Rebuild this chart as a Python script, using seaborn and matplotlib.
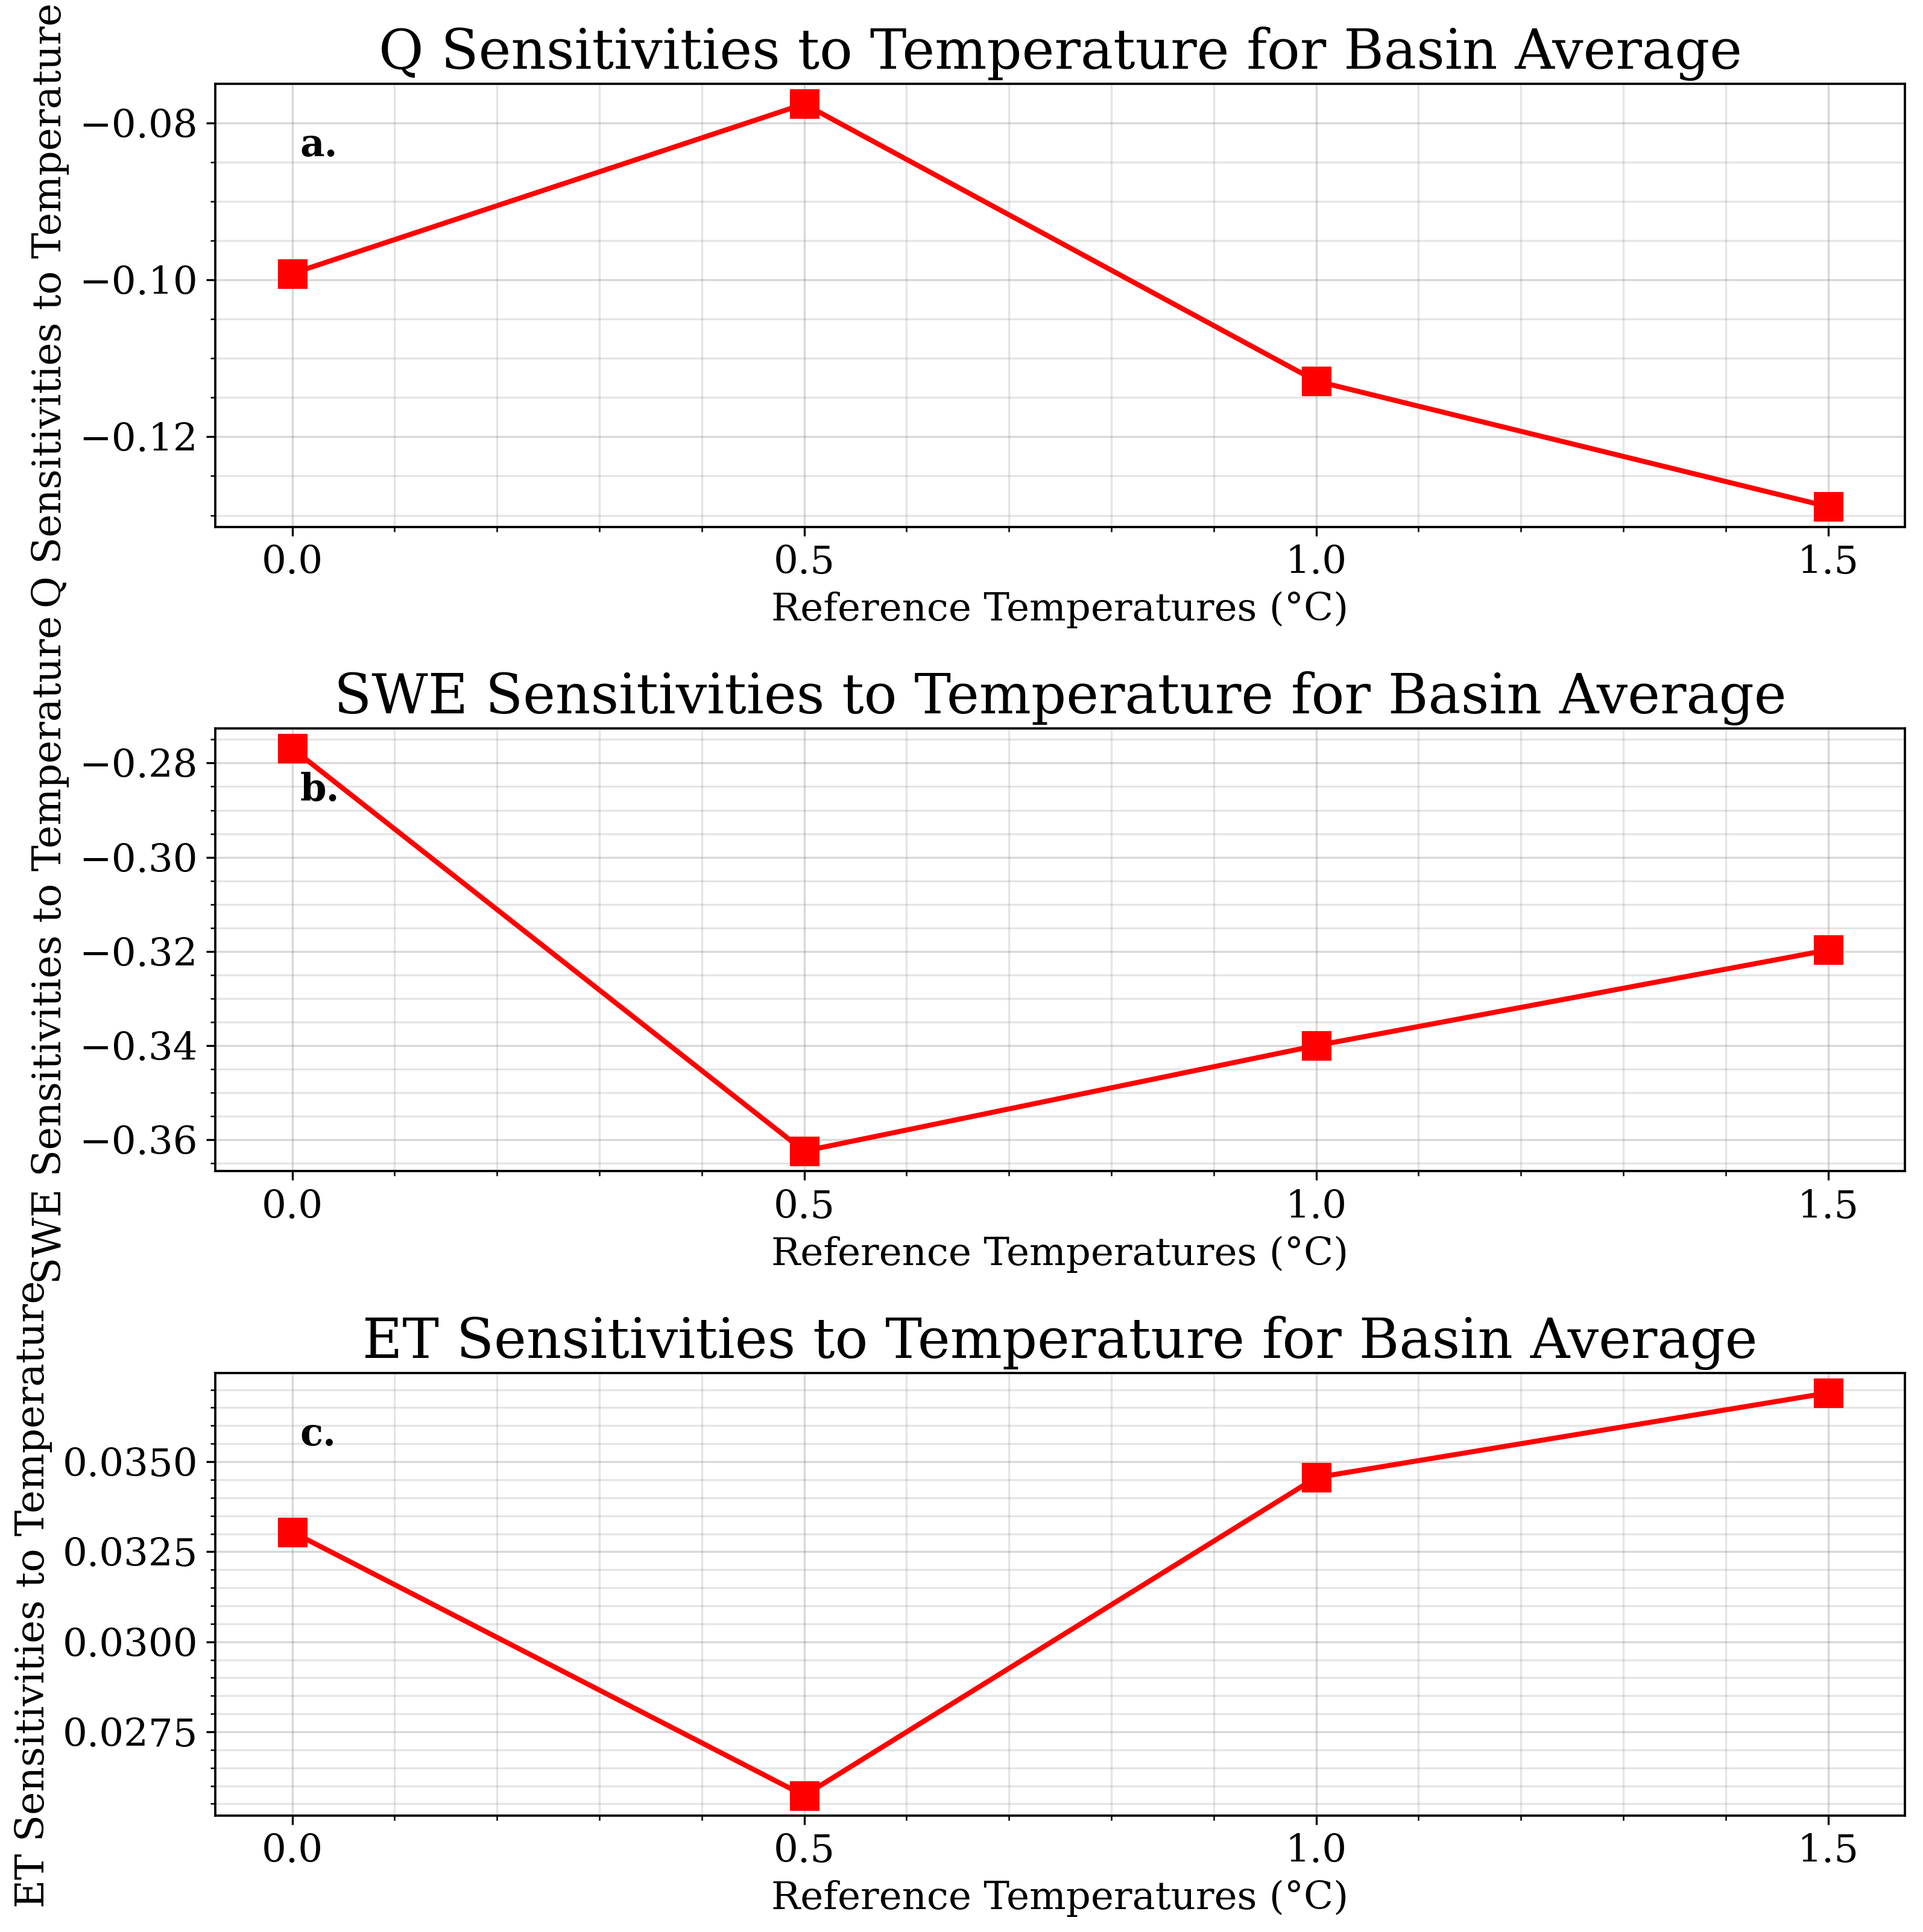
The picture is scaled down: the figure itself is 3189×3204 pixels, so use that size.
import numpy as np
import pandas as pd
import seaborn as sns
import matplotlib
matplotlib.use("Agg")
import matplotlib.pyplot as plt

ref_temps = [0.0, 0.5, 1.0, 1.5]
q_sens = [-0.0992, -0.0776, -0.1129, -0.1289]
swe_sens = [-0.2769, -0.3624, -0.3400, -0.3197]
et_sens = [0.03305, 0.02573, 0.03456, 0.03691]

variables = ['Q', 'SWE', 'ET']
panel_labels = ['a.', 'b.', 'c.']

sns.set_style("ticks")
plt.rcParams['font.family'] = ['DejaVu Serif']
plt.rcParams['axes.linewidth'] = 0.9
plt.rcParams['axes.edgecolor'] = 'black'
plt.rcParams['text.color'] = 'black'
plt.rcParams['axes.labelcolor'] = 'black'
plt.rcParams['xtick.color'] = 'black'
plt.rcParams['ytick.color'] = 'black'
plt.rcParams['xtick.major.size'] = 3.5
plt.rcParams['ytick.major.size'] = 3.5
plt.rcParams['xtick.minor.size'] = 2
plt.rcParams['ytick.minor.size'] = 2

fig, axes = plt.subplots(3, 1, figsize=(10.63, 10.68))
fig.subplots_adjust(left=0.112, right=0.9906, top=0.9566, bottom=0.0602, hspace=0.455)

for ax, var, vals, lab in zip(axes, variables, [q_sens, swe_sens, et_sens], panel_labels):
    df = pd.DataFrame({'temp': ref_temps, 'sens': vals})
    sns.lineplot(data=df, x='temp', y='sens', ax=ax, color='red', marker='s',
                 markersize=11, markeredgecolor='red', linewidth=2)
    ax.set_title(f'{var} Sensitivities to Temperature for Basin Average', fontsize=21.8, color='black')
    ax.set_xlabel('Reference Temperatures (°C)', fontsize=15.4)
    ax.set_ylabel(f'{var} Sensitivities to Temperature', fontsize=15.5)
    ax.set_xticks([0.0, 0.5, 1.0, 1.5])
    ax.minorticks_on()
    ax.tick_params(axis='both', which='major', labelsize=15.4)
    ax.grid(which='major', color='gray', alpha=0.3, linewidth=0.8)
    ax.grid(which='minor', color='gray', alpha=0.2, linewidth=0.8)
    ax.text(0.05, 0.86, lab, transform=ax.transAxes, fontsize=15,
            fontweight='bold', va='center', color='black')

plt.savefig('out.png', dpi=300)
